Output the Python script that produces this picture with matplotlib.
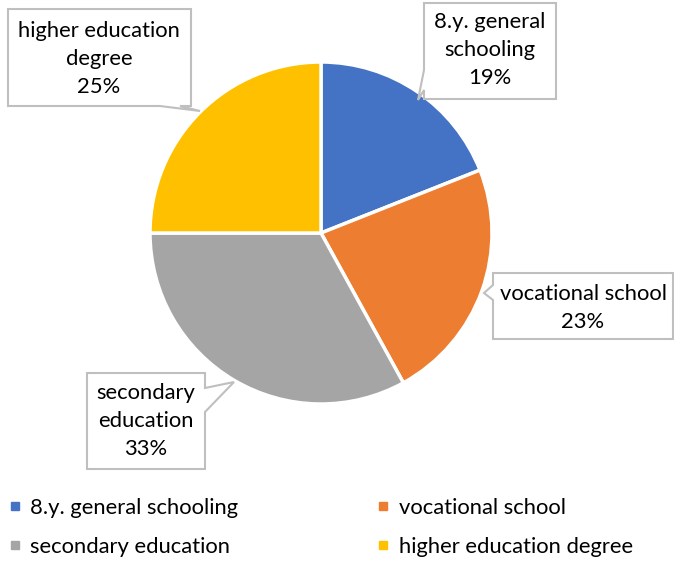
import matplotlib.pyplot as plt
from matplotlib.patches import Polygon
from matplotlib.lines import Line2D

labels = ['8.y. general schooling', 'vocational school',
          'secondary education', 'higher education degree']
box_text = ['8.y. general\nschooling', 'vocational school',
            'secondary\neducation', 'higher education\ndegree']
shares = [19, 23, 33, 25]
colors = ['#4472C4', '#ED7D31', '#A5A5A5', '#FFC000']

W, H = 674, 561
plt.rcParams['font.family'] = ['Lato', 'DejaVu Sans']

fig = plt.figure(figsize=(W / 100, H / 100), dpi=100)
ax = fig.add_axes([0, 0, 1, 1])

wedges, _ = ax.pie(shares, colors=colors, startangle=90, counterclock=False,
                   center=(321, H - 233), radius=171,
                   wedgeprops=dict(edgecolor='white', linewidth=2.5),
                   frame=True)
ax.set_xlim(0, W)
ax.set_ylim(0, H)
ax.set_aspect('auto')
ax.axis('off')


def callout(x0, y0, x1, y1, side, a, b, tip):
    # box in screen pixels (y down); notch on one side between a and b
    if side == 'left':
        pts = [(x0, y0), (x1, y0), (x1, y1), (x0, y1), (x0, b), tip, (x0, a)]
    elif side == 'right':
        pts = [(x0, y0), (x1, y0), (x1, a), tip, (x1, b), (x1, y1), (x0, y1)]
    else:  # bottom
        pts = [(x0, y0), (x1, y0), (x1, y1), (b, y1), tip, (a, y1), (x0, y1)]
    pts = [(px, H - py) for px, py in pts]
    ax.add_patch(Polygon(pts, closed=True, facecolor='white',
                         edgecolor='#BFBFBF', linewidth=1.5, zorder=5))


callout(424, 3, 556, 99, 'left', 70, 90, (418, 100))
callout(493, 273, 673, 339, 'left', 285, 300, (484, 293))
callout(87, 373, 205, 469, 'right', 388, 412, (234, 382))
callout(8, 9, 191, 106, 'bottom', 160, 180, (200, 111))

centers = [(490, 50), (583, 308), (146, 421), (99, 59)]
for (cx, cy), name, v in zip(centers, box_text, shares):
    ax.text(cx, H - cy, f'{name}\n{v}%', ha='center', va='center',
            fontsize=15.8, linespacing=1.5, color='#000000', zorder=6)

# row-major order like the original legend
order = [0, 2, 1, 3]
handles = [Line2D([], [], marker='s', linestyle='none', markersize=6,
                  markerfacecolor=colors[i], markeredgecolor=colors[i])
           for i in order]
fig.legend(handles, [labels[i] for i in order], ncol=2, loc='upper left',
           bbox_to_anchor=(-0.015, 1 - 478 / H), frameon=False, fontsize=15.8,
           handlelength=0.5, handletextpad=0.45, columnspacing=6.35,
           labelspacing=0.88)

fig.savefig('out.png', dpi=100)
